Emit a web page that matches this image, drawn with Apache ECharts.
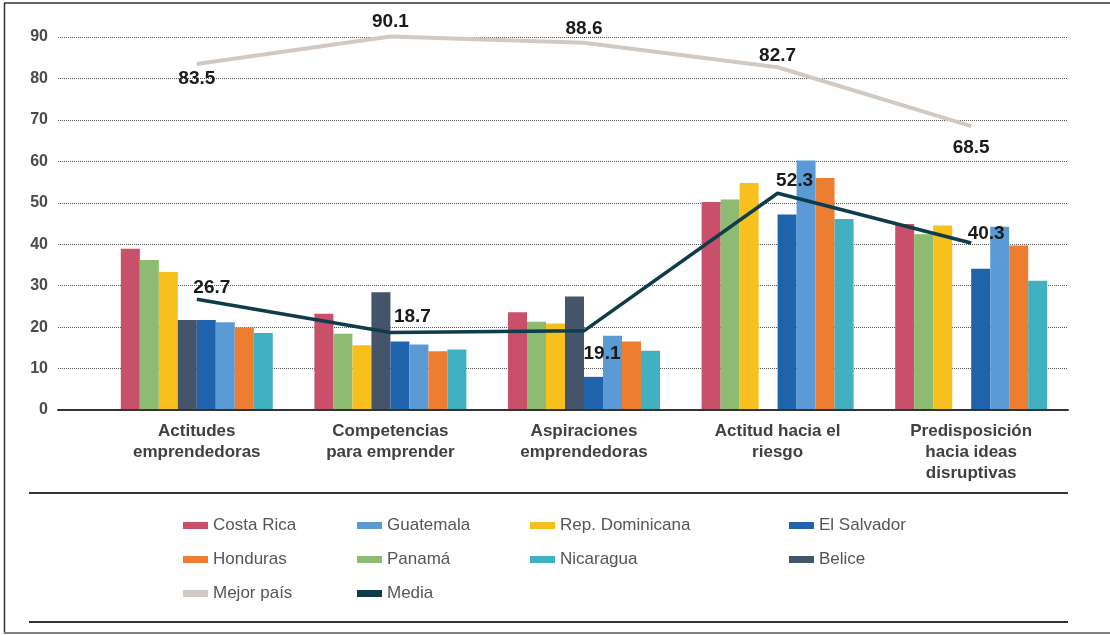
<!DOCTYPE html>
<html>
<head>
<meta charset="utf-8">
<script src="https://cdn.jsdelivr.net/npm/echarts@6/dist/echarts.min.js"></script>
<style>
  html, body { margin: 0; padding: 0; background: #ffffff; }
  #chart { width: 1110px; height: 635px; }
</style>
</head>
<body>
<div id="chart"></div>
<script>
// Dimensions of the entrepreneurial profile, one group of bars per dimension
const categories = [
  'Actitudes\nemprendedoras',
  'Competencias\npara emprender',
  'Aspiraciones\nemprendedoras',
  'Actitud hacia el\nriesgo',
  'Predisposición\nhacia ideas\ndisruptivas'
];

// Country scores (bars drawn in this order inside each group)
const costaRica = [38.9, 23.2, 23.6, 50.2, 44.9];
const panama = [36.2, 18.4, 21.3, 50.8, 42.4];
const repDominicana = [33.3, 15.6, 20.9, 54.8, 44.5];
const belice = [21.7, 28.4, 27.4, null, null];
const elSalvador = [21.7, 16.5, 8.0, 47.2, 34.1];
const guatemala = [21.2, 15.8, 17.9, 60.2, 44.2];
const honduras = [19.9, 14.2, 16.5, 56.0, 39.7];
const nicaragua = [18.6, 14.6, 14.3, 46.1, 31.2];

// Reference lines
const mejorPais = [83.5, 90.1, 88.6, 82.7, 68.5];
const media = [26.7, 18.7, 19.1, 52.3, 40.3];

// Value axis ticks
const yMin = 0, yMax = 90, yStep = 10;

// Label placement for the line values
const mejorLabelPos = [
  { position: 'bottom', distance: 5 },
  { position: 'top', distance: 5 },
  { position: 'top', distance: 5 },
  { position: 'top', distance: 2 },
  { position: 'bottom', distance: 12 }
];
const mediaLabelPos = [
  { position: 'top', offset: [15, 3] },
  { position: 'top', offset: [22, -1] },
  { position: 'bottom', offset: [18, 8] },
  { position: 'top', offset: [17, 2] },
  { position: 'top', offset: [15, 5] }
];

const barSeries = [
  ['Costa Rica', costaRica, '#c8506a'],
  ['Panamá', panama, '#8dbb72'],
  ['Rep. Dominicana', repDominicana, '#f7c01c'],
  ['Belice', belice, '#44546a'],
  ['El Salvador', elSalvador, '#1f63ad'],
  ['Guatemala', guatemala, '#5b9bd5'],
  ['Honduras', honduras, '#ed7d31'],
  ['Nicaragua', nicaragua, '#41b0c0']
];

const valueLabel = {
  show: true,
  color: '#1a1a1a',
  fontFamily: 'Liberation Sans, Arial, sans-serif',
  fontWeight: 'bold',
  fontSize: 19,
  distance: 5,
  formatter: p => p.value.toFixed(1)
};

const series = barSeries.map(([name, data, color]) => ({
  name,
  type: 'bar',
  xAxisIndex: 1,
  yAxisIndex: 1,
  data,
  itemStyle: { color },
  barGap: '0%',
  barCategoryGap: '21.5%'
}));

function lineSeries(name, values, color, width, labelPos, z) {
  return {
    name,
    type: 'line',
    xAxisIndex: 1,
    yAxisIndex: 1,
    z,
    clip: false,
    symbol: 'circle',
    symbolSize: 0,
    showSymbol: true,
    lineStyle: { color, width },
    itemStyle: { color },
    label: valueLabel,
    data: values.map((v, i) => ({ value: v, label: Object.assign({}, valueLabel, labelPos[i]) }))
  };
}

series.push(lineSeries('Mejor país', mejorPais, '#d2cac2', 4, mejorLabelPos, 5));
series.push(lineSeries('Media', media, '#0e3c4b', 3.5, mediaLabelPos, 6));

const legendText = {
  color: '#555555',
  fontFamily: 'Liberation Sans, Arial, sans-serif',
  fontSize: 17
};
const legendColumns = [
  { left: 183, data: ['Costa Rica', 'Honduras', 'Mejor país'] },
  { left: 357, data: ['Guatemala', 'Panamá', 'Media'] },
  { left: 530, data: ['Rep. Dominicana', 'Nicaragua'] },
  { left: 789, data: ['El Salvador', 'Belice'] }
];
const legend = legendColumns.map(col => ({
  orient: 'vertical',
  left: col.left,
  top: 517,
  padding: 0,
  itemGap: 17,
  itemWidth: 25,
  itemHeight: 7,
  icon: 'rect',
  selectedMode: false,
  textStyle: legendText,
  data: col.data
}));

const chart = echarts.init(document.getElementById('chart'), null, { renderer: 'canvas' });

chart.setOption({
  backgroundColor: '#ffffff',
  animation: false,
  legend,
  grid: [
    { left: 58, right: 42, top: 37, bottom: 225 },
    { left: 100, right: 42, top: 37, bottom: 225 }
  ],
  xAxis: [
    {
      type: 'category',
      gridIndex: 0,
      data: [''],
      axisLine: { show: true, lineStyle: { color: '#333333', width: 2 } },
      axisTick: { show: false },
      axisLabel: { show: false },
      z: 10
    },
    {
      type: 'category',
      gridIndex: 1,
      data: categories,
      axisLine: { show: false },
      axisTick: { show: false },
      axisLabel: {
        margin: 11,
        color: '#404040',
        fontFamily: 'Liberation Sans, Arial, sans-serif',
        fontWeight: 'bold',
        fontSize: 17,
        lineHeight: 21,
        interval: 0
      }
    }
  ],
  yAxis: [
    {
      type: 'value',
      gridIndex: 0,
      min: yMin,
      max: yMax,
      interval: yStep,
      axisLine: { show: false },
      axisTick: { show: false },
      axisLabel: {
        margin: 10,
        color: '#4a4a4a',
        fontFamily: 'Liberation Sans, Arial, sans-serif',
        fontWeight: 'bold',
        fontSize: 16
      },
      splitLine: { show: true, lineStyle: { color: '#555555', type: 'dotted', width: 1 } }
    },
    {
      type: 'value',
      gridIndex: 1,
      min: yMin,
      max: yMax,
      interval: yStep,
      show: false,
      splitLine: { show: false }
    }
  ],
  series,
  graphic: [
    { type: 'line', shape: { x1: 4, y1: 3, x2: 1110, y2: 3 }, style: { stroke: '#333333', lineWidth: 1.5 } },
    { type: 'line', shape: { x1: 4.5, y1: 3, x2: 4.5, y2: 633 }, style: { stroke: '#333333', lineWidth: 1.5 } },
    { type: 'line', shape: { x1: 4, y1: 633, x2: 1110, y2: 633 }, style: { stroke: '#808080', lineWidth: 2 } },
    { type: 'line', shape: { x1: 29, y1: 493, x2: 1068, y2: 493 }, style: { stroke: '#333333', lineWidth: 2 } },
    { type: 'line', shape: { x1: 29, y1: 622, x2: 1068, y2: 622 }, style: { stroke: '#333333', lineWidth: 2 } }
  ]
});
</script>
</body>
</html>
